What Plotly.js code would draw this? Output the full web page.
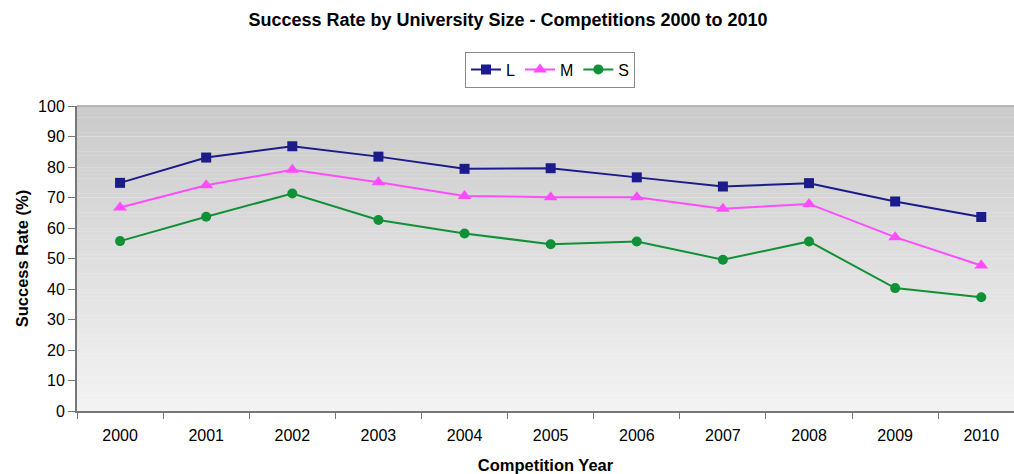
<!DOCTYPE html>
<html>
<head>
<meta charset="utf-8">
<script src="https://cdn.plot.ly/plotly-3.0.1.min.js"></script>
<style>
  html, body { margin: 0; padding: 0; background: #ffffff; }
  #chart { width: 1014px; height: 474px; }
</style>
</head>
<body>
<div id="chart"></div>
<script>
const years = ["2000","2001","2002","2003","2004","2005","2006","2007","2008","2009","2010"];
const largeRate  = [74.8, 83.1, 86.8, 83.4, 79.4, 79.6, 76.6, 73.6, 74.7, 68.7, 63.6];
const mediumRate = [66.7, 74.0, 79.1, 75.0, 70.5, 70.1, 70.1, 66.3, 67.9, 57.0, 47.7];
const smallRate  = [55.7, 63.7, 71.3, 62.6, 58.2, 54.7, 55.6, 49.6, 55.6, 40.3, 37.3];

const FONT = "Liberation Sans, Arial, sans-serif";

function mkTrace(name, vals, color, symbol, size) {
  return {
    type: "scatter", mode: "lines+markers", name: name,
    x: years, y: vals,
    line: { color: color, width: 2 },
    marker: { color: color, symbol: symbol, size: size, line: { width: 0 } }
  };
}

const traces = [
  mkTrace("L", largeRate, "#1b1b8c", "square", 10),
  mkTrace("M", mediumRate, "#ff4cff", "triangle-up", 12),
  mkTrace("S", smallRate, "#119137", "circle", 10)
];

// gradient background for the plot area
const shapes = [];
const N = 80;
const gradTop = [202, 202, 202], gradBot = [243, 243, 243];
for (let i = 0; i < N; i++) {
  const t = (i + 0.5) / N;
  const c = gradTop.map((v, k) => Math.round(v + (gradBot[k] - v) * t));
  shapes.push({
    type: "rect", xref: "paper", yref: "paper", layer: "below",
    x0: 0, x1: 1, y0: 1 - (i + 1) / N, y1: 1 - i / N + 0.001,
    fillcolor: "rgb(" + c.join(",") + ")", line: { width: 0 }
  });
}
shapes.push({
  type: "line", xref: "paper", yref: "paper", x0: 0, x1: 1, y0: 1, y1: 1,
  line: { color: "#a8a8a8", width: 1.5 }
});

const layout = {
  width: 1014, height: 474,
  margin: { l: 77, r: 0, t: 106, b: 63 },
  paper_bgcolor: "#ffffff",
  plot_bgcolor: "rgba(0,0,0,0)",
  font: { family: FONT, size: 16, color: "#000000" },
  title: {
    text: "<b>Success Rate by University Size - Competitions 2000 to 2010</b>",
    font: { family: FONT, size: 18, color: "#000000" },
    xref: "container", x: 508 / 1014, xanchor: "center",
    yref: "container", y: 1 - 20 / 474, yanchor: "middle"
  },
  showlegend: true,
  legend: {
    orientation: "h",
    xref: "container", x: 550 / 1014, xanchor: "center",
    yref: "container", y: 1 - 69.5 / 474, yanchor: "middle",
    bordercolor: "#8a8a8a", borderwidth: 1, bgcolor: "#ffffff",
    font: { family: FONT, size: 16, color: "#000000" },
    itemwidth: 30, tracegroupgap: 0
  },
  xaxis: {
    type: "category",
    range: [-0.5, 10.38],
    tickson: "boundaries",
    ticks: "outside", ticklen: 6, tickcolor: "#777777", tickwidth: 1,
    showline: true, linecolor: "#777777", linewidth: 2,
    showgrid: false, zeroline: false,
    ticklabelstandoff: 9,
    tickfont: { family: FONT, size: 16, color: "#000000" },
    title: { text: "<b>Competition Year</b>", font: { family: FONT, size: 16.5, color: "#000000" }, standoff: 16 }
  },
  yaxis: {
    range: [0, 100], dtick: 10, tick0: 0,
    ticks: "outside", ticklen: 7, tickcolor: "#777777", tickwidth: 1,
    showline: true, linecolor: "#777777", linewidth: 2,
    showgrid: true, gridcolor: "rgba(235,235,235,0.3)", gridwidth: 1,
    zeroline: false,
    tickfont: { family: FONT, size: 16, color: "#000000" },
    title: { text: "<b>Success Rate (%)</b>", font: { family: FONT, size: 16.5, color: "#000000" }, standoff: 5 }
  },
  shapes: shapes
};

Plotly.newPlot("chart", traces, layout, { displayModeBar: false, staticPlot: true });
</script>
</body>
</html>
